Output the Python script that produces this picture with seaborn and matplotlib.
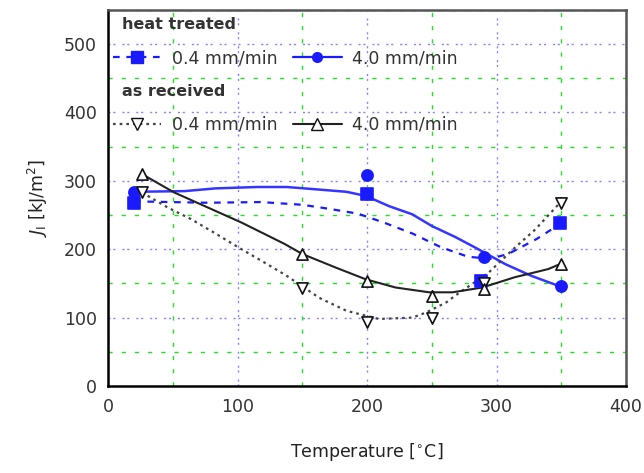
import numpy as np
import pandas as pd
import matplotlib
matplotlib.use("Agg")
import matplotlib.pyplot as plt
from matplotlib.lines import Line2D
from matplotlib.ticker import MultipleLocator
import seaborn as sns

# measured points
# heat treated, 0.4 mm/min (blue squares)
temp_ht_slow = [20, 200, 288, 349]
ji_ht_slow = [267, 281, 154, 239]
# heat treated, 4.0 mm/min (blue circles)
temp_ht_fast = [20, 200, 290, 350]
ji_ht_fast = [283, 309, 189, 146]
# as received, 0.4 mm/min (down triangles)
temp_ar_slow = [26, 150, 200, 250, 290, 350]
ji_ar_slow = [283, 144, 93, 100, 151, 268]
# as received, 4.0 mm/min (up triangles)
temp_ar_fast = [26, 150, 200, 250, 290, 350]
ji_ar_fast = [310, 193, 153, 132, 142, 178]

# trend curves
curve_t_ht_slow = [20, 77, 118, 150, 171, 193, 213, 235, 257, 278, 295, 309, 331, 350]
curve_j_ht_slow = [270, 268, 269, 265, 259, 252, 239, 223, 203, 189, 186, 193, 215, 238]
curve_t_ht_fast = [20, 59, 83, 115, 138, 158, 184, 199, 217, 235, 250, 268, 284, 307, 327, 350]
curve_j_ht_fast = [284, 285, 289, 291, 291, 288, 284, 278, 263, 251, 234, 218, 202, 178, 161, 145]
curve_t_ar_slow = [26, 46, 64, 82, 103, 123, 138, 163, 184, 209, 235, 245, 261, 268, 294, 314, 330, 350]
curve_j_ar_slow = [283, 261, 244, 224, 200, 178, 161, 129, 110, 98, 100, 107, 122, 132, 166, 202, 229, 270]
curve_t_ar_fast = [26, 51, 77, 103, 136, 150, 176, 199, 222, 248, 266, 289, 314, 340, 350]
curve_j_ar_fast = [310, 283, 261, 239, 208, 193, 173, 156, 144, 137, 137, 144, 159, 171, 179]

legend_labels = ['0.4 mm/min', '4.0 mm/min']
group_titles = ['heat treated', 'as received']

sns.set_style("white")
plt.rcParams['font.family'] = ['DejaVu Sans']

fig = plt.figure(figsize=(6.44, 4.73), dpi=100)
ax = fig.add_axes([0.168, 0.184, 0.804, 0.795])

blue = '#1a1aff'
dash = (0, (3, 3))
dots = (0, (1.2, 1.8))
series = [
    (temp_ht_slow, ji_ht_slow, curve_t_ht_slow, curve_j_ht_slow, 's', blue, blue, dash, 1.6),
    (temp_ht_fast, ji_ht_fast, curve_t_ht_fast, curve_j_ht_fast, 'o', blue, '#3535ff', '-', 1.8),
    (temp_ar_slow, ji_ar_slow, curve_t_ar_slow, curve_j_ar_slow, 'v', 'white', '#444444', dots, 1.6),
    (temp_ar_fast, ji_ar_fast, curve_t_ar_fast, curve_j_ar_fast, '^', 'white', '#222222', '-', 1.5),
]
for tx, jy, ct, cj, mk, fc, lc, ls, lw in series:
    sns.lineplot(x=ct, y=cj, color=lc, lw=lw, ls=ls, ax=ax)
    ec = '#111111' if fc == 'white' else fc
    sns.scatterplot(x=tx, y=jy, marker=mk, s=65, color=fc, edgecolor=ec,
                    linewidth=1.2, ax=ax, zorder=5)

ax.set_xlim(0, 400)
ax.set_ylim(0, 550)
ax.xaxis.set_major_locator(MultipleLocator(100))
ax.xaxis.set_minor_locator(MultipleLocator(50))
ax.yaxis.set_major_locator(MultipleLocator(100))
ax.yaxis.set_minor_locator(MultipleLocator(50))
ax.grid(which='major', color='#5a5aff', ls=(0, (1.5, 2, 1.5, 5)), lw=1.0, alpha=0.75)
ax.grid(which='minor', color='#22e022', ls=(0, (3, 6.5)), lw=1.0)
ax.set_axisbelow(True)
ax.tick_params(which='both', direction='in', length=3, labelsize=12.5, labelcolor='#333333')
ax.tick_params(axis='x', pad=9)
ax.tick_params(axis='y', pad=8)

for s in ['left', 'bottom']:
    ax.spines[s].set_color('black')
    ax.spines[s].set_linewidth(1.8)
for s in ['top', 'right']:
    ax.spines[s].set_color('#555555')
    ax.spines[s].set_linewidth(1.8)

ax.set_xlabel('Temperature [$^{\\circ}$C]', fontsize=12.5, labelpad=18, color='#222222')
ax.set_ylabel('$J_\\mathrm{I}$ [kJ/m$^2$]', fontsize=12.5, labelpad=10, color='#222222')

h1 = [Line2D([], [], color=blue, ls=dash, marker='s', ms=8, lw=1.6),
      Line2D([], [], color=blue, ls='-', marker='o', ms=7, lw=1.6)]
h2 = [Line2D([], [], color='#444444', ls=dots, marker='v', ms=8, mfc='white', mec='#111111', lw=1.6),
      Line2D([], [], color='#222222', ls='-', marker='^', ms=8, mfc='white', mec='#111111', lw=1.5)]
leg_kw = dict(ncol=2, loc='center left', frameon=False, fontsize=12.5,
              handlelength=2.8, handletextpad=0.6, columnspacing=0.9,
              borderaxespad=0.0, borderpad=0.0)
leg1 = ax.legend(h1, legend_labels, bbox_to_anchor=(0.009, 0.872), **leg_kw)
ax.add_artist(leg1)
leg2 = ax.legend(h2, legend_labels, bbox_to_anchor=(0.009, 0.694), **leg_kw)
for lg in (leg1, leg2):
    for t in lg.get_texts():
        t.set_color('#333333')
for title, ty in zip(group_titles, [0.96, 0.782]):
    ax.text(0.027, ty, title, transform=ax.transAxes, fontsize=11.5,
            fontweight='bold', color='#333333', va='center', ha='left')

fig.savefig('out.png', dpi=100)
